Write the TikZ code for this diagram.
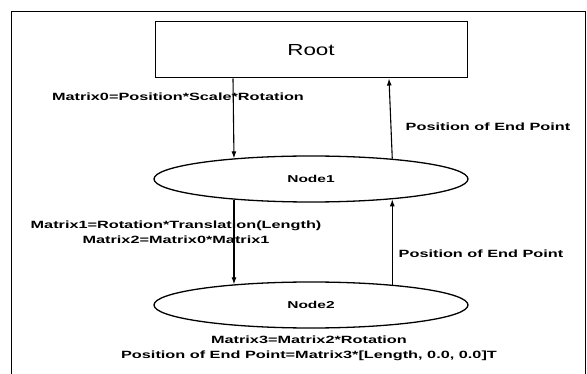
\documentclass[tikz,border=0pt]{standalone}
\usepackage{fontspec}
\setmainfont{Liberation Sans}
\newfontfamily\labf{Liberation Sans}[FakeStretch=1.55]
\newfontfamily\rootf{Liberation Sans}[FakeStretch=1.4]
\usetikzlibrary{shapes.geometric,arrows.meta}
\begin{document}
\begin{tikzpicture}[x=1pt,y=-1pt,
  box/.style={draw,line width=1pt,minimum width=312pt,minimum height=56pt,inner sep=0pt,font=\rootf\fontsize{16}{18}\selectfont},
  oval/.style={draw,ellipse,line width=1.3pt,minimum width=314pt,minimum height=46pt,inner sep=0pt,font=\labf\bfseries\fontsize{10}{12}\selectfont},
  lbl/.style={inner sep=0pt,font=\labf\bfseries\fontsize{10.5}{15}\selectfont,align=center},
  arr/.style={line width=1.1pt,-{Latex[length=7pt,width=5pt]}}]
\useasboundingbox (0,0) rectangle (587,374);
\draw[line width=1pt] (11,374) -- (11,12) -- (585,12) -- (585,374);
\node[box] (root) at (311,50) {Root};
\node[oval] (n1) at (311,179) {Node1};
\node[oval] (n2) at (311,305) {Node2};
\coordinate (xl) at (233,0);
\coordinate (xr) at (389,0);
\node[lbl] (m0) at (178,97) {Matrix0=Position*Scale*Rotation};
\node[lbl] (p1) at (488,127) {Position of End Point};
\node[lbl] (m12) at (176,232) {Matrix1=Rotation*Translation(Length)\\Matrix2=Matrix0*Matrix1};
\node[lbl] (p2) at (481,254) {Position of End Point};
\node[lbl] (m3) at (309,348) {Matrix3=Matrix2*Rotation\\Position of End Point=Matrix3*[Length, 0.0, 0.0]T};
\draw[arr] (root.south -| xl) -- (n1.165.65);
\draw[arr] (n1.14.35) -- (root.south -| xr);
\draw[arr] (n1.-165.65) -- (n2.165.65);
\draw[arr] (n2.14.35) -- (n1.-14.35);
\end{tikzpicture}
\end{document}
